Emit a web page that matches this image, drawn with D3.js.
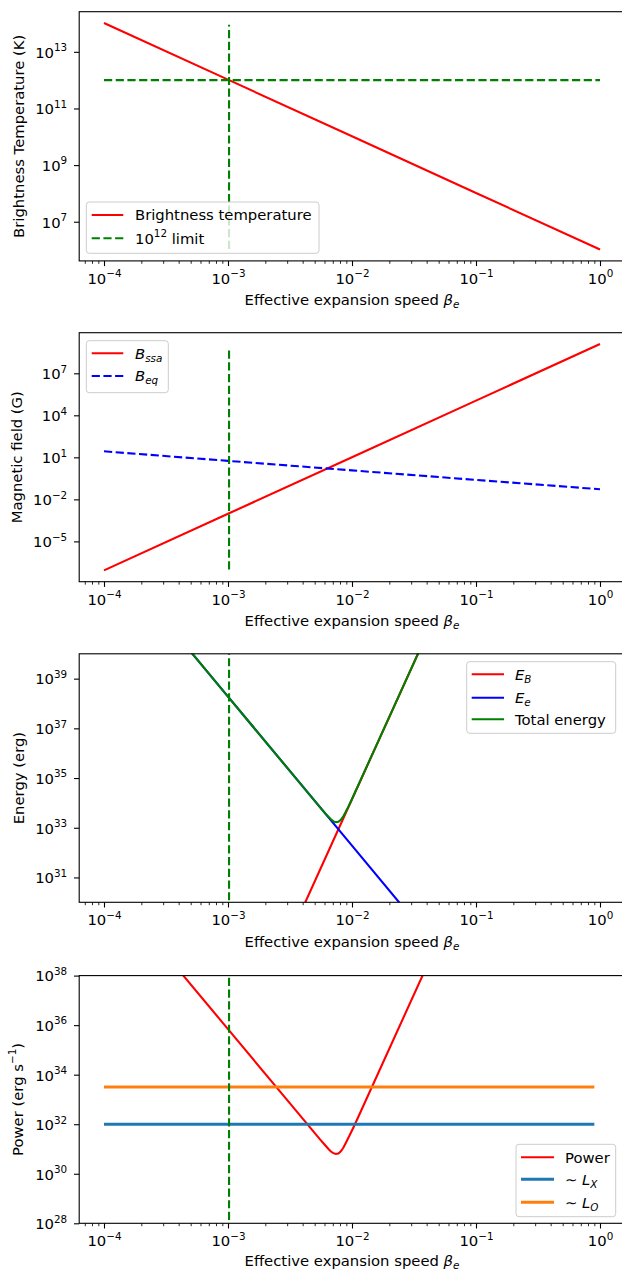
<!DOCTYPE html>
<html>
<head>
<meta charset="utf-8">
<script src="https://cdn.jsdelivr.net/npm/d3@7"></script>
<style>
  body { margin: 0; background: #fff; }
  text { font-family: "DejaVu Sans", sans-serif; }
</style>
</head>
<body>
<svg width="622" height="1271"></svg>
<script>
// ---- data (log-log power laws) ----
let betaDecades = [1e-4, 1e-3, 1e-2, 1e-1, 1];
let betaLimit = 1.02e-3;

// panel 1 : brightness temperature
let tempBright = [1.04e14, 1.04e12, 1.04e10, 1.04e8, 1.04e6];
let tempLimit = 1e12;

// panel 2 : magnetic field
let bSsa = [8.5e-8, 9.3e-4, 10.2, 1.12e5, 1.23e9];
let bEq = [26.9, 5.6, 1.17, 0.245, 0.0525];

// panel 3 : energy
let energyB = [1.4e12, 1.4e23, 1.4e34, 1.4e45, 1.4e56];
let energyE = [1.9e44, 1.9e38, 1.9e32, 1.9e26, 1.9e20];
let betaTotal = [1e-4, 1e-3, 3.16e-3, 5.62e-3, 6.17e-3, 6.46e-3, 6.76e-3, 7.08e-3, 7.41e-3,
                 7.76e-3, 8.13e-3, 8.51e-3, 8.91e-3, 9.33e-3, 9.77e-3, 1.07e-2, 1e-1, 1];
let energyTotal = [1.9e44, 1.9e38, 1.9e35, 6.0e33, 3.5e33, 2.75e33, 2.2e33, 1.8e33, 1.66e33,
                   1.74e33, 2.1e33, 2.9e33, 4.4e33, 6.9e33, 1.12e34, 3.0e34, 1.4e45, 1.4e56];

// panel 4 : power
let betaPower = [1e-4, 1e-3, 3.16e-3, 5.5e-3, 6.03e-3, 6.46e-3, 6.76e-3, 7.08e-3, 7.41e-3,
                 7.76e-3, 8.13e-3, 8.51e-3, 8.91e-3, 9.55e-3, 1.05e-2, 1e-1, 1];
let power = [6.9e41, 6.9e35, 6.9e32, 2.5e31, 1.48e31, 1.0e31, 7.9e30, 6.8e30, 6.3e30,
             6.6e30, 8.1e30, 1.12e31, 1.74e31, 3.5e31, 9.3e31, 5.6e42, 5.6e53];
let betaLum = [1e-4, 0.9];
let lumX = 1e32;
let lumO = 3.2e33;

// vertical limit line extents per panel
let vlineExtent = [[1.1e6, 9e13], [1e-7, 6.6e8], [1.2e30, 1e41], [1.35e28, 1e40]];

let yTicks1 = [1e7, 1e9, 1e11, 1e13];
let yTicks2 = [1e-5, 1e-2, 1e1, 1e4, 1e7];
let yTicks3 = [1e31, 1e33, 1e35, 1e37, 1e39];
let yTicks4 = [1e28, 1e30, 1e32, 1e34, 1e36, 1e38];
let xTicks = [1e-4, 1e-3, 1e-2, 1e-1, 1];

// ---- layout ----
let svg = d3.select("svg");
let fs = 14.8;
let left = 79.2, right = 624.8;
let tops = [11.7, 332.7, 653.8, 975.6];
let heights = [249.2, 249, 248.5, 247.7];
let xlabOffset = [44.5, 44.5, 44.5, 42.5];

function logPad(lo, hi) {
  let a = Math.log10(lo), b = Math.log10(hi), m = (b - a) * 0.05;
  return [Math.pow(10, a - m), Math.pow(10, b + m)];
}

let x = d3.scaleLog().domain(logPad(1e-4, 1)).range([left, right]);

let xMinor = [];
for (let k = -5; k <= 0; k++) {
  for (let m = 2; m <= 9; m++) {
    let v = m * Math.pow(10, k);
    if (v >= x.domain()[0] && v <= x.domain()[1]) xMinor.push(v);
  }
}

function pairs(xs, ys) { return xs.map(function(d, i) { return [d, ys[i]]; }); }

// rich text: segments {t, it, sub, sup}
function rich(sel, segs) {
  let shift = 0;
  segs.forEach(function(s) {
    let ts = sel.append("tspan").text(s.t);
    let target = s.sub ? 2.8 : (s.sup ? -6.5 : 0);
    if (target !== shift) { ts.attr("dy", target - shift); shift = target; }
    if (s.sub || s.sup) ts.attr("font-size", "70%");
    if (s.it) ts.attr("font-style", "italic");
  });
}

function powLabel(v) {
  let e = Math.round(Math.log10(v));
  return [{t: "10"}, {t: e < 0 ? "\u2212" + (-e) : String(e), sup: true}];
}

let panels = [
  {
    yDomain: logPad(d3.min(tempBright), d3.max(tempBright)),
    yTicks: yTicks1,
    ylabel: [{t: "Brightness Temperature (K)"}], ylx: 23.5,
    series: [
      {data: pairs(betaDecades, tempBright), color: "#ff0000", w: 2.1},
      {data: [[1e-4, tempLimit], [1, tempLimit]], color: "#008000", w: 2.1, dash: "8.2,3.5"}
    ],
    legend: {x: 86.3, y: 190.3, w: 232.7, h: 51.3, hx: [91.7, 123.3], tx: 135, rows: [
      {y: 203.3, color: "#ff0000", label: [{t: "Brightness temperature"}]},
      {y: 226.6, color: "#008000", dash: "8.2,3.5",
       label: [{t: "10"}, {t: "12", sup: true}, {t: " limit"}]}
    ]}
  },
  {
    yDomain: logPad(d3.min(bSsa.concat(bEq)), d3.max(bSsa.concat(bEq))),
    yTicks: yTicks2,
    ylabel: [{t: "Magnetic field (G)"}], ylx: 22,
    series: [
      {data: pairs(betaDecades, bSsa), color: "#ff0000", w: 2.1},
      {data: pairs(betaDecades, bEq), color: "#0000ff", w: 2.1, dash: "8.2,3.5"}
    ],
    legend: {x: 86.3, y: 8, w: 82, h: 52, hx: [91.7, 123.3], tx: 135, rows: [
      {y: 20.6, color: "#ff0000", label: [{t: "B", it: true}, {t: "ssa", it: true, sub: true}]},
      {y: 43.3, color: "#0000ff", dash: "8.2,3.5",
       label: [{t: "B", it: true}, {t: "eq", it: true, sub: true}]}
    ]}
  },
  {
    yDomain: [1e30, 1e40],
    yTicks: yTicks3,
    ylabel: [{t: "Energy (erg)"}], ylx: 23.5,
    series: [
      {data: pairs(betaDecades, energyB), color: "#ff0000", w: 2.1},
      {data: pairs(betaDecades, energyE), color: "#0000ff", w: 2.1},
      {data: pairs(betaTotal, energyTotal), color: "#008000", w: 2.1}
    ],
    legend: {x: 466.7, y: 7.9, w: 149, h: 71.6, hx: [471.7, 504], tx: 515, rows: [
      {y: 20.5, color: "#ff0000", label: [{t: "E", it: true}, {t: "B", it: true, sub: true}]},
      {y: 43.9, color: "#0000ff", label: [{t: "E", it: true}, {t: "e", it: true, sub: true}]},
      {y: 65.5, color: "#008000", label: [{t: "Total energy"}]}
    ]}
  },
  {
    yDomain: [1e28, 1e38],
    yTicks: yTicks4,
    ylabel: [{t: "Power (erg s"}, {t: "\u22121", sup: true}, {t: ")"}], ylx: 22.5,
    series: [
      {data: pairs(betaPower, power), color: "#ff0000", w: 2.1},
      {data: [[betaLum[0], lumX], [betaLum[1], lumX]], color: "#1f77b4", w: 2.9},
      {data: [[betaLum[0], lumO], [betaLum[1], lumO]], color: "#ff7f0e", w: 2.9}
    ],
    legend: {x: 516, y: 168.7, w: 99.7, h: 72.4, hx: [521, 554], tx: 565, rows: [
      {y: 181.7, color: "#ff0000", label: [{t: "Power"}]},
      {y: 203.7, color: "#1f77b4", w: 2.9,
       label: [{t: " \u223c "}, {t: "L", it: true}, {t: "X", it: true, sub: true}]},
      {y: 226.7, color: "#ff7f0e", w: 2.9,
       label: [{t: " \u223c "}, {t: "L", it: true}, {t: "O", it: true, sub: true}]}
    ]}
  }
];

panels.forEach(function(p, i) {
  let top = tops[i], ph = heights[i], bottom = top + ph;
  let y = d3.scaleLog().domain(p.yDomain).range([bottom, top]);
  let g = svg.append("g");

  g.append("clipPath").attr("id", "clip" + i)
    .append("rect").attr("x", left).attr("y", top)
    .attr("width", right - left).attr("height", ph);

  let plot = g.append("g").attr("clip-path", "url(#clip" + i + ")");
  let line = d3.line().x(function(d) { return x(d[0]); }).y(function(d) { return y(d[1]); });

  p.series.forEach(function(s) {
    plot.append("path").datum(s.data)
      .attr("d", line)
      .attr("fill", "none")
      .attr("stroke", s.color)
      .attr("stroke-width", s.w)
      .attr("stroke-dasharray", s.dash || null);
  });

  // vertical limit line
  plot.append("line")
    .attr("x1", x(betaLimit)).attr("x2", x(betaLimit))
    .attr("y1", y(vlineExtent[i][0])).attr("y2", y(vlineExtent[i][1]))
    .attr("stroke", "#008000").attr("stroke-width", 2.1)
    .attr("stroke-dasharray", "8.2,3.5");

  // axes
  let xa = g.append("g").attr("transform", "translate(0," + bottom + ")")
    .call(d3.axisBottom(x).tickValues(xTicks).tickSize(5.2).tickFormat(function() { return ""; }));
  let xm = g.append("g").attr("transform", "translate(0," + bottom + ")")
    .call(d3.axisBottom(x).tickValues(xMinor).tickSize(2.9).tickFormat(function() { return ""; }));
  let ya = g.append("g").attr("transform", "translate(" + left + ",0)")
    .call(d3.axisLeft(y).tickValues(p.yTicks).tickSize(5.2).tickFormat(function() { return ""; }));

  [xa, xm, ya].forEach(function(a) { a.select(".domain").remove(); });
  xa.selectAll("line").attr("stroke-width", 1.1);
  ya.selectAll("line").attr("stroke-width", 1.1);
  xm.selectAll("line").attr("stroke-width", 0.85);

  xa.selectAll(".tick text").each(function(v) {
    let t = d3.select(this).attr("y", 23).attr("dy", null)
      .attr("font-size", fs).attr("fill", "#000");
    rich(t, powLabel(v));
  });
  ya.selectAll(".tick text").each(function(v) {
    let t = d3.select(this).attr("x", -12).attr("dy", "0.36em")
      .attr("font-size", fs).attr("fill", "#000");
    rich(t, powLabel(v));
  });

  // spines
  g.append("rect").attr("x", left).attr("y", top)
    .attr("width", right - left).attr("height", ph)
    .attr("fill", "none").attr("stroke", "#000").attr("stroke-width", 1.1);

  // axis labels
  let xl = g.append("text").attr("x", (left + right) / 2).attr("y", bottom + xlabOffset[i])
    .attr("text-anchor", "middle").attr("font-size", fs);
  rich(xl, [{t: "Effective expansion speed "}, {t: "\u03b2", it: true}, {t: "e", it: true, sub: true}]);

  let yl = g.append("text")
    .attr("transform", "translate(" + p.ylx + "," + (top + bottom) / 2 + ") rotate(-90)")
    .attr("text-anchor", "middle").attr("font-size", fs);
  rich(yl, p.ylabel);

  // legend
  let L = p.legend;
  let lg = g.append("g").attr("transform", "translate(0," + top + ")");
  lg.append("rect").attr("x", L.x).attr("y", L.y).attr("width", L.w).attr("height", L.h)
    .attr("rx", 3).attr("fill", "#fff").attr("fill-opacity", 0.8)
    .attr("stroke", "#cccccc").attr("stroke-width", 1);
  L.rows.forEach(function(r) {
    lg.append("line").attr("x1", L.hx[0]).attr("x2", L.hx[1])
      .attr("y1", r.y).attr("y2", r.y)
      .attr("stroke", r.color).attr("stroke-width", r.w || 2.1)
      .attr("stroke-dasharray", r.dash || null);
    let t = lg.append("text").attr("x", L.tx).attr("y", r.y + 5.5).attr("font-size", fs);
    rich(t, r.label);
  });
});
</script>
</body>
</html>
